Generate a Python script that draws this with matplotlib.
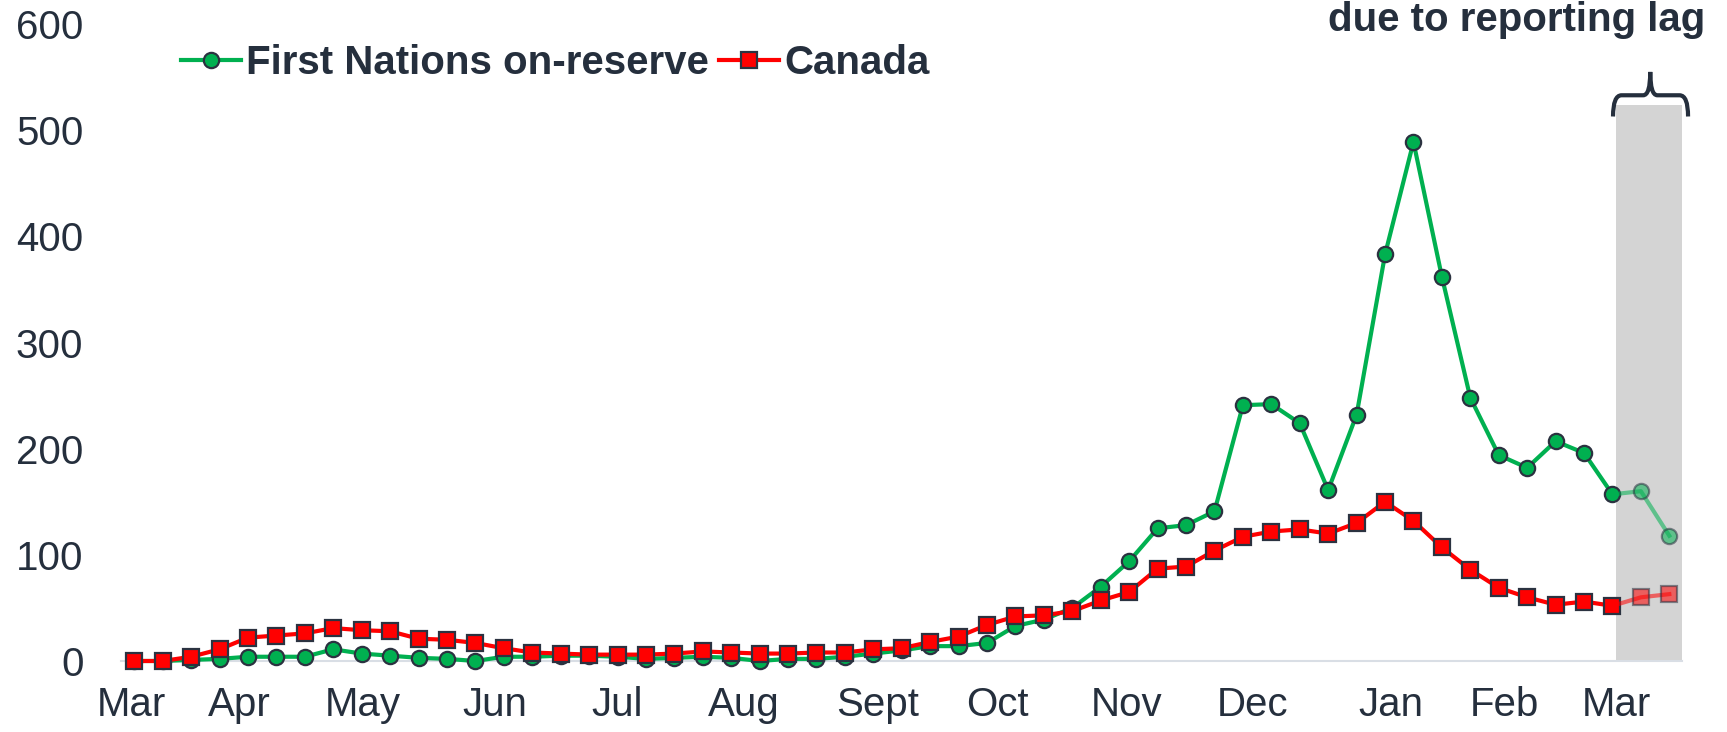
import matplotlib.pyplot as plt
from matplotlib.path import Path
from matplotlib.patches import PathPatch, Rectangle

plt.rcParams["font.family"] = ["Liberation Sans", "DejaVu Sans"]

# weekly counts, Mar 2020 - Mar 2021
first_nations = [0, 0, 1, 2, 4, 4, 4, 11, 7, 5, 3, 2, 0, 4, 4, 5, 5, 4, 2, 3, 4, 3, 0, 2, 2, 4,
                 7, 10, 14, 14, 17, 33, 39, 50, 70, 94, 125, 128, 141, 241, 242, 224, 161, 232,
                 383, 489, 362, 248, 194, 182, 207, 196, 157, 160, 118]
canada = [0, 0, 4, 11, 22, 24, 26, 31, 29, 28, 21, 20, 17, 12, 8, 7, 6, 6, 6, 7, 9, 8, 7, 7, 8, 8,
          11, 12, 18, 23, 34, 42, 43, 47, 57, 65, 87, 89, 104, 117, 122, 124, 120, 130,
          150, 132, 107, 86, 69, 60, 53, 56, 52, 60, 63]
month_labels = ["Mar", "Apr", "May", "Jun", "Jul", "Aug", "Sept", "Oct", "Nov", "Dec",
                "Jan", "Feb", "Mar"]
lag_weeks = 2  # last points incomplete due to reporting lag

# layout
month_pos = [-0.1, 3.7, 8.05, 12.7, 17.0, 21.45, 26.15, 30.35, 34.9, 39.35, 44.2, 48.2, 52.15]
TXT = "#252f3d"
GREEN = "#00b050"
RED = "#ff0000"
EDGE = "#2b3240"
FS = 29

fig = plt.figure(figsize=(17.27, 7.32), dpi=100)
ax = fig.add_axes([0.070, 0.097, 0.904, 0.870])

n = len(canada)
x = list(range(n))
cut = n - lag_weeks - 1

# shaded region for incomplete data
ax.add_patch(Rectangle((52.13, 0), 54.45 - 52.13, 524, color="#d4d4d4", zorder=0, lw=0))

common = dict(lw=3, markersize=11, markeredgecolor=EDGE, markeredgewidth=1.6, clip_on=False)
l1, = ax.plot(x[:cut + 1], first_nations[:cut + 1], color=GREEN, marker="o", zorder=3, **common)
l2, = ax.plot(x[:cut + 1], canada[:cut + 1], color=RED, marker="s", zorder=4, **common)
ax.plot(x[cut:], first_nations[cut:], color=GREEN, marker="o", alpha=0.55, zorder=3,
        markevery=list(range(1, lag_weeks + 1)), **common)
ax.plot(x[cut:], canada[cut:], color=RED, marker="s", alpha=0.55, zorder=4,
        markevery=list(range(1, lag_weeks + 1)), **common)

ax.set_xlim(-0.47, 54.45)
ax.set_ylim(0, 600)
ax.set_yticks(range(0, 601, 100))
ax.set_xticks(month_pos)
ax.set_xticklabels(month_labels)
ax.tick_params(axis="both", length=0, labelsize=FS, colors=TXT)
ax.tick_params(axis="y", pad=27)
ax.tick_params(axis="x", pad=18)
for s in ["top", "right", "left"]:
    ax.spines[s].set_visible(False)
ax.spines["bottom"].set_color("#d9dee5")
ax.spines["bottom"].set_linewidth(1.5)

leg = ax.legend([l1, l2], ["First Nations on-reserve", "Canada"], loc="upper left",
                bbox_to_anchor=(0.015, 1.025), ncol=2, frameon=False, handlelength=1.5,
                handletextpad=0.12, columnspacing=0.25, prop={"weight": "bold", "size": FS})
for t in leg.get_texts():
    t.set_color(TXT)

# curly brace over shaded region
x0, xc, x1 = 52.02, 53.33, 54.66
yb, ym, yt = 513, 533, 555
verts = [(x0, yb), (x0, ym), (x0 + 0.3, ym),
         (xc - 0.25, ym), (xc, ym), (xc, yt),
         (xc, ym), (xc + 0.25, ym),
         (x1 - 0.3, ym), (x1, ym), (x1, yb)]
codes = [Path.MOVETO, Path.CURVE3, Path.CURVE3,
         Path.LINETO, Path.CURVE3, Path.CURVE3,
         Path.CURVE3, Path.CURVE3,
         Path.LINETO, Path.CURVE3, Path.CURVE3]
ax.add_patch(PathPatch(Path(verts, codes), fill=False, edgecolor=TXT, lw=3, clip_on=False))

fig.text(1705 / 1727, 1 - 20 / 732, "due to reporting lag", ha="right", va="center",
         fontsize=FS, fontweight="bold", color=TXT)

fig.savefig("out.png", dpi=100)
